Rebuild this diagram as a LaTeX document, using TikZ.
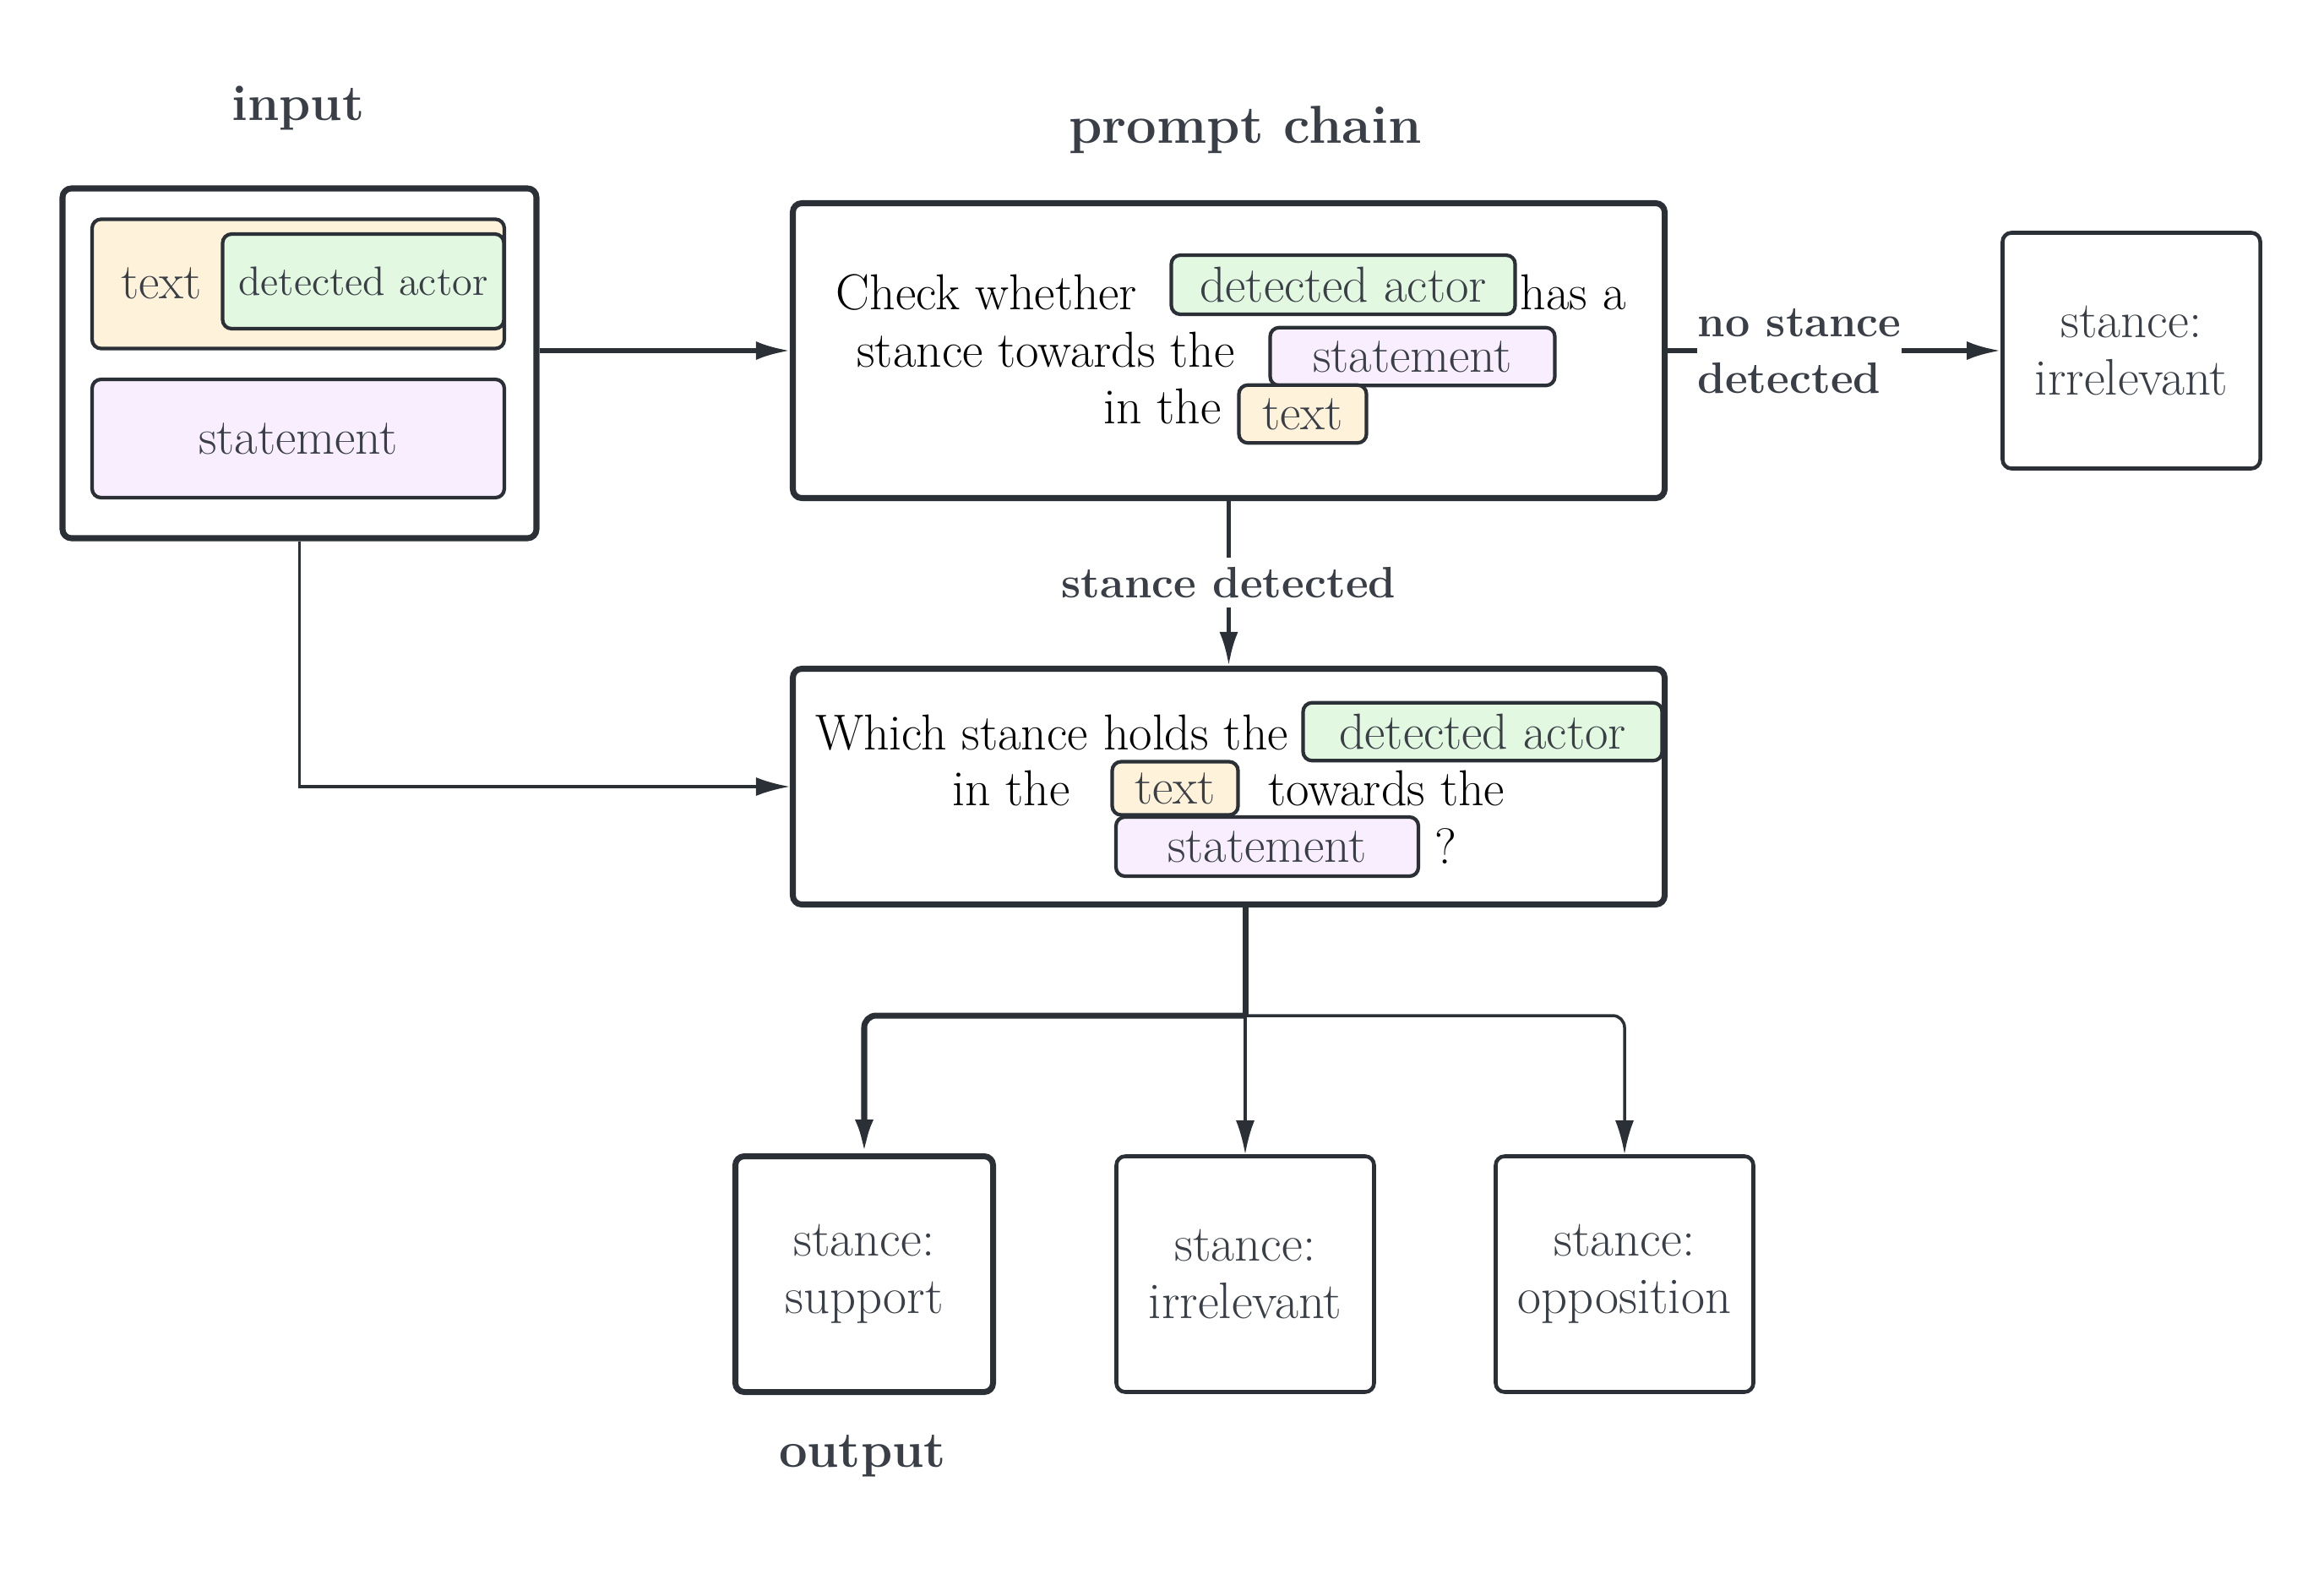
\documentclass[tikz,border=0pt]{standalone}
\usepackage{fontspec}
\usetikzlibrary{arrows.meta}

\definecolor{linegray}{HTML}{2B2F36}
\definecolor{textgray}{HTML}{3A3F47}
\definecolor{creamfill}{HTML}{FFF2DA}
\definecolor{greenfill}{HTML}{E2F8E1}
\definecolor{lilacfill}{HTML}{F9EEFD}

\tikzstyle{bigbox} = [rectangle, rounded corners=3pt, draw=linegray, line width=2pt, fill=white]
\tikzstyle{tagbox} = [rectangle, rounded corners=3pt, draw=linegray, line width=1.2pt, text=textgray, font=\fontsize{17}{19}\selectfont, inner sep=0pt]
\tikzstyle{outbox} = [rectangle, rounded corners=3pt, draw=linegray, line width=1.3pt, minimum width=3.05cm, minimum height=2.79cm, text=textgray, align=center, font=\fontsize{17.3}{19.4}\selectfont]
\tikzstyle{prompt} = [font=\fontsize{17}{19}\selectfont, inner sep=0pt]
\tikzstyle{headline} = [font=\fontsize{17}{20}\selectfont\bfseries, text=textgray]
\tikzstyle{edgelabel} = [font=\fontsize{14.8}{19}\selectfont\bfseries, text=textgray, align=left, inner sep=0pt]
\tikzstyle{link} = [draw=linegray, line width=1.5pt]
\tikzstyle{arrow} = [-{Latex[length=4mm,width=2.2mm]}, draw=linegray, line width=1.5pt]

\begin{document}
\begin{tikzpicture}
	\useasboundingbox (0,0) rectangle (27.51,-18.56);

	\node (inputtitle) [headline] at (3.53,-1.28) {input};
	\node (input) [bigbox, minimum width=5.61cm, minimum height=4.14cm] at (3.545,-4.30) {};
	\node (textbox) [tagbox, fill=creamfill, minimum width=4.88cm, minimum height=1.53cm] at (3.53,-3.36) {};
	\node (textlabel) [prompt, text=textgray] at (1.91,-3.35) {text};
	\node (actorbox) [tagbox, fill=greenfill, minimum width=3.33cm, minimum height=1.12cm, font=\fontsize{13.8}{16}\selectfont] at (4.30,-3.33) {detected actor};
	\node (statementbox) [tagbox, fill=lilacfill, minimum width=4.88cm, minimum height=1.40cm] at (3.53,-5.19) {statement};

	\node (chaintitle) [headline, font=\fontsize{18}{21}\selectfont\bfseries] at (14.74,-1.54) {prompt chain};
	\node (check) [bigbox, minimum width=10.32cm, minimum height=3.49cm] at (14.545,-4.15) {};
	\node (check1) [prompt] at (11.68,-3.46) {Check whether};
	\node (checkactor) [tagbox, fill=greenfill, minimum width=4.07cm, minimum height=0.70cm] at (15.90,-3.37) {detected actor};
	\node (check2) [prompt] at (18.62,-3.46) {has a};
	\node (check3) [prompt] at (12.38,-4.14) {stance towards the};
	\node (checkstatement) [tagbox, fill=lilacfill, minimum width=3.37cm, minimum height=0.685cm] at (16.72,-4.22) {statement};
	\node (check4) [prompt] at (13.76,-4.81) {in the};
	\node (checktext) [tagbox, fill=creamfill, minimum width=1.51cm, minimum height=0.685cm] at (15.42,-4.90) {text};

	\node (noirr) [outbox] at (25.23,-4.15) {stance:\\irrelevant};
	\node (nostance) [edgelabel] at (21.30,-4.16) {no stance\\detected};
	\node (detected) [edgelabel, inner sep=3pt] at (14.545,-6.895) {stance detected};

	\node (which) [bigbox, minimum width=10.32cm, minimum height=2.79cm] at (14.545,-9.31) {};
	\node (which1) [prompt] at (12.45,-8.67) {Which stance holds the};
	\node (whichactor) [tagbox, fill=greenfill, minimum width=4.25cm, minimum height=0.685cm] at (17.55,-8.66) {detected actor};
	\node (which2) [prompt] at (11.97,-9.33) {in the};
	\node (whichtext) [tagbox, fill=creamfill, minimum width=1.49cm, minimum height=0.63cm] at (13.91,-9.33) {text};
	\node (which3) [prompt] at (16.41,-9.33) {towards the};
	\node (whichstatement) [tagbox, fill=lilacfill, minimum width=3.58cm, minimum height=0.70cm] at (15.00,-10.02) {statement};
	\node (which4) [prompt] at (17.11,-10.02) {?};

	\node (support) [outbox, line width=2pt] at (10.23,-15.08) {stance:\\support};
	\node (irrelevant) [outbox] at (14.74,-15.08) {stance:\\irrelevant};
	\node (opposition) [outbox] at (19.23,-15.08) {stance:\\opposition};
	\node (outputtitle) [headline] at (10.21,-17.23) {output};
	\coordinate (split) at (14.74,-12.02);

	\draw [arrow] (input.east |- check.west) -- (check.west);
	\draw [link] (check.east) -- (check.east -| nostance.west);
	\draw [arrow] (nostance.east |- noirr.west) -- (noirr.west);
	\draw [link] (check.south) -- (detected.north);
	\draw [arrow] (detected.south) -- (which.north);
	\draw [arrow, line width=1pt] (input.south) |- (which.west);
	\draw [link, line width=2pt] (which.south -| split) -- (split);
	\draw [arrow, line width=2pt, rounded corners=4pt] (split) -| (support.north);
	\draw [arrow, line width=1pt] (split) -- (irrelevant.north);
	\draw [arrow, line width=1pt, rounded corners=4pt] (split) -| (opposition.north);
\end{tikzpicture}
\end{document}
